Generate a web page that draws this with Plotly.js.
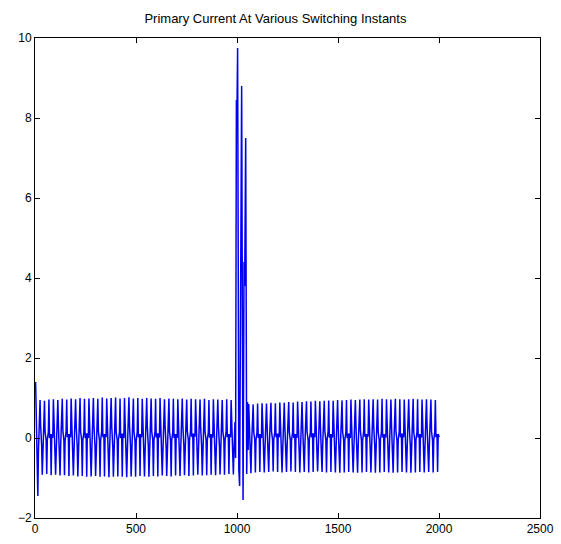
<!DOCTYPE html>
<html>
<head>
<meta charset="utf-8">
<script src="https://cdn.plot.ly/plotly-3.0.1.min.js"></script>
<style>html,body{margin:0;padding:0;background:#fff}#chart{width:561px;height:544px}</style>
</head>
<body>
<div id="chart"></div>
<script>
// ---- data ----
var chartTitle = "Primary Current At Various Switching Instants";
var samplePeriod = 22;            // samples per cycle (approx.)
var startA = 3;                   // first cycle of the pre-switching section
var startB = 1058;                // first cycle after the switching transient

var peaksA = [1.40,0.95,0.93,0.96,0.97,0.95,0.98,0.96,0.99,0.97,1.00,0.98,0.99,1.00,0.98,1.01,0.99,1.00,1.01,0.99,1.00,1.02,0.99,1.00,0.98,1.00,0.99,0.98,1.00,0.97,0.99,0.98,0.97,0.99,0.96,0.98,0.97,0.96,0.98,0.95,0.97,0.96,0.95,0.97,0.95];
var troughsA = [-1.45,-0.92,-0.90,-0.93,-0.92,-0.94,-0.93,-0.95,-0.94,-0.96,-0.95,-0.97,-0.96,-0.95,-0.97,-0.96,-0.98,-0.97,-0.96,-0.97,-0.98,-0.96,-0.97,-0.95,-0.96,-0.97,-0.95,-0.96,-0.94,-0.95,-0.96,-0.94,-0.95,-0.93,-0.95,-0.94,-0.92,-0.94,-0.93,-0.92,-0.93,-0.91,-0.92,-0.90,-0.91];
var midHiA = [0.40,0.30,0.15,0.00,0.45,0.32,0.18,0.02,0.42,0.30,0.15,0.00,0.44,0.30,0.16,0.02,0.42,0.28,0.14,0.00,0.43,0.30,0.15,0.02,0.42,0.29,0.16,0.01,0.44,0.30,0.15,0.00,0.42,0.30,0.17,0.03,0.43,0.28,0.15,0.01,0.42,0.30,0.16,0.02,0.40];
var midLoA = [-0.35,-0.20,-0.05,0.10,-0.38,-0.22,-0.06,0.10,-0.36,-0.20,-0.05,0.12,-0.37,-0.22,-0.06,0.10,-0.36,-0.21,-0.05,0.11,-0.38,-0.22,-0.07,0.10,-0.36,-0.20,-0.05,0.12,-0.37,-0.21,-0.06,0.10,-0.35,-0.20,-0.05,0.11,-0.36,-0.22,-0.06,0.10,-0.35,-0.20,-0.05,0.10,-0.34];

var spikeX = [993, 997, 999, 1003, 1009, 1013, 1017, 1023, 1027, 1030, 1035, 1038, 1043, 1048, 1052, 1055];
var spikeY = [-0.5, 8.45, 7.7, 9.75, -0.8, -1.2, 3.4, 8.8, 2.45, -1.55, 4.4, 3.8, 7.5, -0.9, 0.9, -0.3];

var peaksB = [0.85,0.84,0.86,0.87,0.86,0.88,0.87,0.89,0.88,0.90,0.89,0.91,0.90,0.92,0.91,0.93,0.92,0.93,0.94,0.93,0.95,0.94,0.95,0.96,0.95,0.96,0.97,0.96,0.97,0.96,0.98,0.97,0.96,0.98,0.97,0.96,0.97,0.98,0.97,0.96,0.97,0.96,0.95];
var troughsB = [-0.88,-0.86,-0.85,-0.86,-0.85,-0.84,-0.85,-0.86,-0.85,-0.84,-0.85,-0.86,-0.85,-0.86,-0.85,-0.84,-0.85,-0.86,-0.85,-0.86,-0.87,-0.86,-0.85,-0.86,-0.87,-0.86,-0.85,-0.86,-0.87,-0.86,-0.85,-0.86,-0.87,-0.86,-0.85,-0.86,-0.87,-0.86,-0.85,-0.86,-0.85,-0.86,-0.85];
var midHiB = [0.30,0.15,0.00,0.42,0.30,0.16,0.02,0.40,0.28,0.14,0.00,0.42,0.30,0.15,0.02,0.41,0.29,0.16,0.01,0.43,0.30,0.15,0.00,0.41,0.30,0.17,0.03,0.42,0.28,0.15,0.01,0.41,0.30,0.16,0.02,0.40,0.29,0.15,0.01,0.42,0.30,0.16,0.02];
var midLoB = [-0.20,-0.05,0.10,-0.34,-0.20,-0.05,0.11,-0.35,-0.21,-0.06,0.10,-0.34,-0.20,-0.05,0.12,-0.35,-0.21,-0.06,0.10,-0.33,-0.20,-0.05,0.11,-0.34,-0.22,-0.06,0.10,-0.33,-0.20,-0.05,0.10,-0.34,-0.21,-0.06,0.11,-0.33,-0.20,-0.05,0.10,-0.34,-0.21,-0.06,0.10];

// ---- build the trace from the per-cycle readings ----
var xs = [], ys = [];
function addCycles(start, pk, tr, hi, lo) {
  for (var i = 0; i < pk.length; i++) {
    var t = start + i * samplePeriod;
    xs.push(t, t + 3, t + 8, t + 11, t + 14, t + 19);
    ys.push(pk[i], hi[i], lo[i], tr[i], lo[i], hi[i]);
  }
}
addCycles(startA, peaksA, troughsA, midHiA, midLoA);
for (var k = 0; k < spikeX.length; k++) { xs.push(spikeX[k]); ys.push(spikeY[k]); }
addCycles(startB, peaksB, troughsB, midHiB, midLoB);

var trace = {
  x: xs, y: ys, type: 'scatter', mode: 'lines',
  line: {color: '#0000f0', width: 1.5}, hoverinfo: 'skip'
};

var fnt = {family: '"Liberation Sans", Arial, sans-serif', size: 12, color: '#000'};
var axisCommon = {
  showgrid: false, zeroline: false, showline: true, linecolor: '#000', linewidth: 1,
  mirror: 'ticks', ticks: 'inside', ticklen: 5, tickcolor: '#000', tickwidth: 1,
  tickfont: fnt
};
var layout = {
  width: 561, height: 544,
  margin: {l: 35, r: 21, t: 38, b: 26, pad: 0},
  paper_bgcolor: '#fff', plot_bgcolor: '#fff',
  showlegend: false,
  font: fnt,
  title: {text: chartTitle, font: {family: fnt.family, size: 13, color: '#000'}, x: 0.491, xanchor: 'center', y: 0.967, yanchor: 'middle', yref: 'container'},
  xaxis: Object.assign({}, axisCommon, {range: [0, 2500], tickvals: [0, 500, 1000, 1500, 2000, 2500]}),
  yaxis: Object.assign({}, axisCommon, {range: [-2, 10], tickvals: [-2, 0, 2, 4, 6, 8, 10]})
};
Plotly.newPlot('chart', [trace], layout, {displayModeBar: false, staticPlot: true});
</script>
</body>
</html>
